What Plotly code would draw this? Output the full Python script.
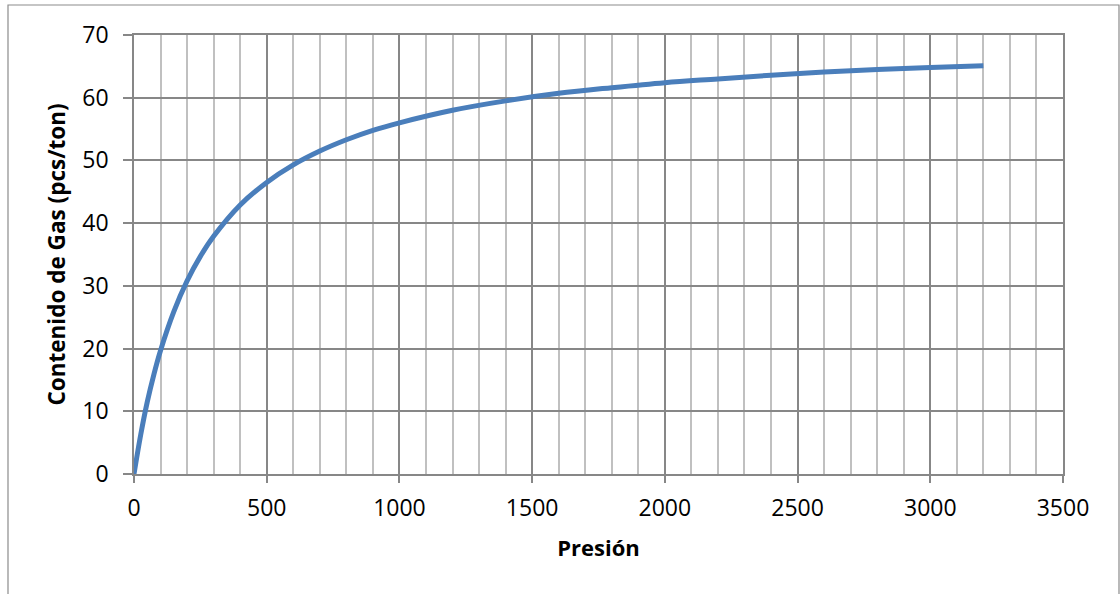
import plotly.graph_objects as go

# Data
presion = [0, 25, 50, 75, 100, 150, 200, 250, 300, 400, 500, 600, 700, 800, 900,
           1000, 1200, 1400, 1600, 1800, 2000, 2200, 2400, 2600, 2800, 3000, 3200]
contenido_gas = [0, 6.2, 11.5, 15.9, 19.7, 25.9, 30.8, 34.7, 37.9, 42.9, 46.5, 49.3,
                 51.5, 53.3, 54.8, 56.0, 58.0, 59.5, 60.7, 61.6, 62.4, 63.0, 63.6,
                 64.1, 64.5, 64.8, 65.1]

x_ticks = [0, 500, 1000, 1500, 2000, 2500, 3000, 3500]
y_ticks = [0, 10, 20, 30, 40, 50, 60, 70]

W, H = 1120, 594
L, R, T, B = 134, 1063, 35, 474

fig = go.Figure()
fig.add_trace(go.Scatter(
    x=presion, y=contenido_gas, mode="lines",
    line=dict(color="#4A7EBB", width=5, shape="spline"),
    showlegend=False, hoverinfo="x+y",
))

FONT = "Open Sans"
major = "#878787"
minor = "#C0C0C0"

fig.update_layout(
    width=W, height=H,
    margin=dict(l=L, r=W - R, t=T, b=H - B, pad=0),
    paper_bgcolor="white", plot_bgcolor="white",
    font=dict(family=FONT, size=23, color="black"),
    xaxis=dict(
        range=[0, 3500], tickvals=x_ticks, ticktext=[str(v) for v in x_ticks],
        showgrid=True, gridcolor=major, gridwidth=1.5,
        minor=dict(dtick=100, tick0=0, showgrid=True, gridcolor=minor, gridwidth=1.5, ticklen=0),
        showline=True, linecolor=major, linewidth=1.5, mirror=True,
        ticks="outside", ticklen=7, tickcolor=major, tickwidth=1.5,
        ticklabelstandoff=6,
        zeroline=False,
        tickfont=dict(family=FONT, size=23, color="black"),
        title=dict(text="<b>Presión</b>", font=dict(family=FONT, size=22, color="black"), standoff=18),
    ),
    yaxis=dict(
        range=[0, 70], tickvals=y_ticks, ticktext=[str(v) for v in y_ticks],
        showgrid=True, gridcolor=major, gridwidth=1.5,
        showline=True, linecolor=major, linewidth=1.5, mirror=True,
        ticks="outside", ticklen=9, tickcolor=major, tickwidth=1.5,
        ticklabelstandoff=10,
        zeroline=False,
        tickfont=dict(family=FONT, size=23, color="black"),
        title=dict(text="<b>Contenido de Gas (pcs/ton)</b>", font=dict(family=FONT, size=22.5, color="black"), standoff=10),
    ),
)

pw, ph = R - L, B - T
fig.add_shape(
    type="rect", xref="paper", yref="paper",
    x0=(8 - L) / pw, x1=(1119 - L) / pw,
    y0=(B - 620) / ph, y1=(B - 5) / ph,
    line=dict(color="#8C8C8C", width=1.2), fillcolor="rgba(0,0,0,0)", layer="below",
)

fig.write_html(
    "out.html",
    config={"displayModeBar": False},
    post_script="document.body.style.margin='0';document.body.style.overflow='hidden';",
)
